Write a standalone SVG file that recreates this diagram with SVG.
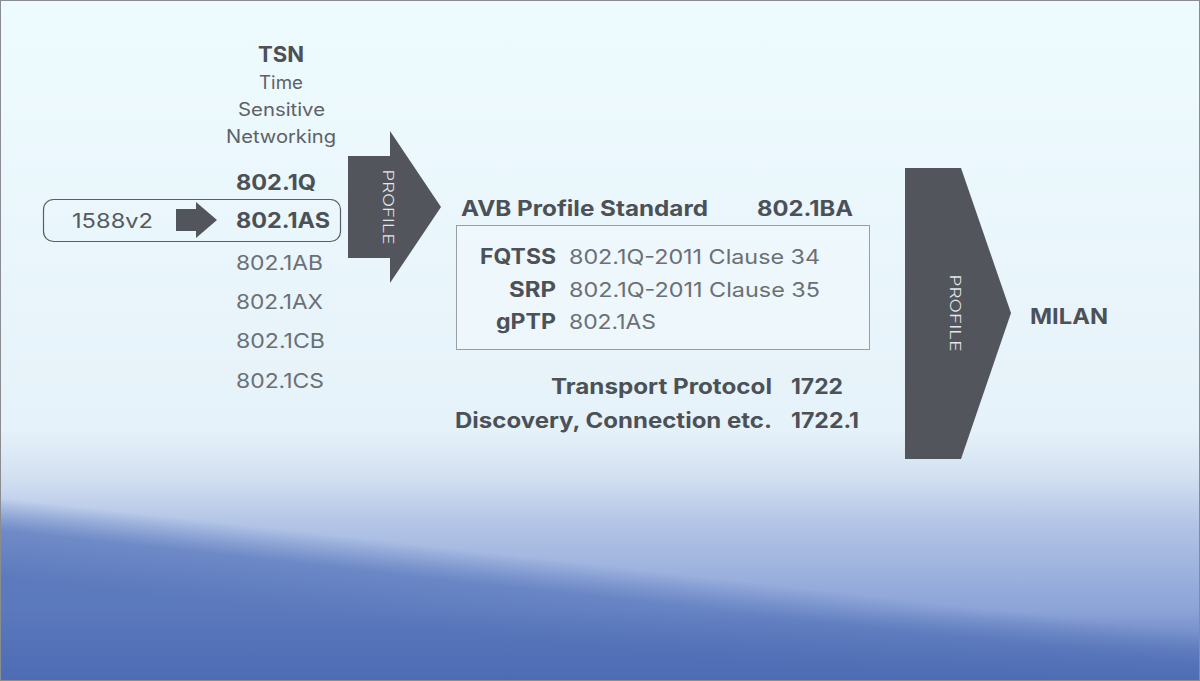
<svg xmlns="http://www.w3.org/2000/svg" width="1200" height="681" viewBox="0 0 1200 681">
<defs>
<linearGradient id="bg" x1="0" y1="0" x2="0" y2="681" gradientUnits="userSpaceOnUse">
<stop offset="0" stop-color="#eefbfe"/>
<stop offset="0.63" stop-color="#e6f2f9"/>
<stop offset="0.7" stop-color="#d3e0f1"/>
<stop offset="0.77" stop-color="#b2c4e6"/>
<stop offset="0.88" stop-color="#90a7d9"/>
<stop offset="1" stop-color="#7690cc"/>
</linearGradient>
<linearGradient id="diag" x1="600" y1="565" x2="591" y2="645" gradientUnits="userSpaceOnUse">
<stop offset="0" stop-color="#5b79bd" stop-opacity="0"/>
<stop offset="0.4" stop-color="#5b79bd" stop-opacity="0.75"/>
<stop offset="1" stop-color="#5674ba" stop-opacity="0.9"/>
</linearGradient>
<linearGradient id="bot" x1="0" y1="610" x2="0" y2="681" gradientUnits="userSpaceOnUse">
<stop offset="0" stop-color="#4968b0" stop-opacity="0"/>
<stop offset="1" stop-color="#4968b0" stop-opacity="0.75"/>
</linearGradient>
</defs>
<style>
text{font-family:"Inter","Liberation Sans",sans-serif;}
.b{font-weight:700;fill:#4c5157;font-size:21px;}
.r{font-weight:400;fill:#6a7076;font-size:20px;}
.s{font-weight:400;fill:#5c6167;font-size:18px;}
.p{font-weight:300;fill:#e4e6e8;font-size:14px;}
.shape{fill:#52565c;}
</style>
<rect x="0" y="0" width="1200" height="681" fill="url(#bg)"/>
<rect x="0" y="0" width="1200" height="681" fill="url(#diag)"/>
<rect x="0" y="610" width="1200" height="71" fill="url(#bot)"/>
<rect x="0.5" y="0.5" width="1199" height="680" fill="none" stroke="#8a8d90" stroke-width="1"/>

<g id="tsn">
<text class="b" x="258" y="62" textLength="46" lengthAdjust="spacingAndGlyphs">TSN</text>
<text class="s" x="259" y="89" textLength="44" lengthAdjust="spacingAndGlyphs">Time</text>
<text class="s" x="238" y="116" textLength="87" lengthAdjust="spacingAndGlyphs">Sensitive</text>
<text class="s" x="226" y="143" textLength="110" lengthAdjust="spacingAndGlyphs">Networking</text>
<text class="b" x="236" y="190" textLength="80" lengthAdjust="spacingAndGlyphs">802.1Q</text>
<text class="r" x="236" y="270" textLength="87" lengthAdjust="spacingAndGlyphs">802.1AB</text>
<text class="r" x="236" y="309" textLength="87" lengthAdjust="spacingAndGlyphs">802.1AX</text>
<text class="r" x="236" y="348" textLength="89" lengthAdjust="spacingAndGlyphs">802.1CB</text>
<text class="r" x="236" y="388" textLength="88" lengthAdjust="spacingAndGlyphs">802.1CS</text>
</g>

<g id="as-box">
<rect x="43.5" y="199.5" width="297" height="42" rx="10" fill="none" stroke="#5a5e63" stroke-width="1.2"/>
<text class="r" x="72" y="228" style="fill:#555a60" textLength="81" lengthAdjust="spacingAndGlyphs">1588v2</text>
<text class="b" x="236" y="228" textLength="94" lengthAdjust="spacingAndGlyphs">802.1AS</text>
</g>

<g id="connectors">
<polygon class="shape" points="176,209 196,209 196,202 217,220 196,238 196,231 176,231"/>
</g>

<g id="profile1">
<polygon class="shape" points="348,156 390,156 390,131 441,207 390,283 390,258 348,258"/>
<text class="p" x="350.5" y="212" transform="rotate(90 388 207)" textLength="75" lengthAdjust="spacingAndGlyphs">PROFILE</text>
</g>

<g id="avb">
<text class="b" x="461" y="216" textLength="247" lengthAdjust="spacingAndGlyphs">AVB Profile Standard</text>
<text class="b" x="757" y="216" textLength="96" lengthAdjust="spacingAndGlyphs">802.1BA</text>
<rect x="456.5" y="225.5" width="413" height="124" fill="#ffffff" fill-opacity="0.25" stroke="#9a9da1" stroke-width="1"/>
<text class="b" x="480" y="264" textLength="76" lengthAdjust="spacingAndGlyphs">FQTSS</text>
<text class="r" x="569" y="264" textLength="251" lengthAdjust="spacingAndGlyphs">802.1Q-2011 Clause 34</text>
<text class="b" x="509" y="297" textLength="47" lengthAdjust="spacingAndGlyphs">SRP</text>
<text class="r" x="569" y="297" textLength="251" lengthAdjust="spacingAndGlyphs">802.1Q-2011 Clause 35</text>
<text class="b" x="496" y="329" textLength="60" lengthAdjust="spacingAndGlyphs">gPTP</text>
<text class="r" x="569" y="329" textLength="87" lengthAdjust="spacingAndGlyphs">802.1AS</text>
</g>

<g id="transport">
<text class="b" x="551" y="394" textLength="221" lengthAdjust="spacingAndGlyphs">Transport Protocol</text>
<text class="b" x="791" y="394" textLength="52" lengthAdjust="spacingAndGlyphs">1722</text>
<text class="b" x="455" y="428" textLength="317" lengthAdjust="spacingAndGlyphs">Discovery, Connection etc.</text>
<text class="b" x="791" y="428" textLength="68" lengthAdjust="spacingAndGlyphs">1722.1</text>
</g>

<g id="profile2">
<polygon class="shape" points="905,168 961,168 1011,313 961,459 905,459"/>
<text class="p" x="916.5" y="318" transform="rotate(90 955 313)" textLength="77" lengthAdjust="spacingAndGlyphs">PROFILE</text>
</g>

<g id="milan">
<text class="b" x="1030" y="324" textLength="78" lengthAdjust="spacingAndGlyphs">MILAN</text>
</g>
</svg>
